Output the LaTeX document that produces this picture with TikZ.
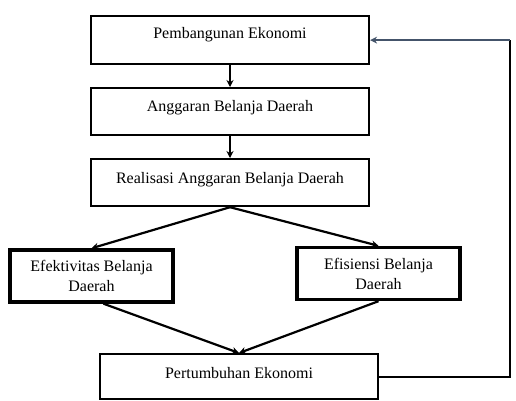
\documentclass[tikz,border=0pt]{standalone}
\usepackage{fontspec}
\setmainfont{Liberation Serif}
\usetikzlibrary{arrows.meta}
\definecolor{garisbalik}{RGB}{68,84,106}

\begin{document}
\begin{tikzpicture}[x=1pt,y=-1pt]
% Definisi gaya
\tikzset{
  kotak/.style={rectangle, draw, line width=2.2pt, minimum width=278pt, inner sep=0pt, anchor=north, font=\fontsize{16}{20}\selectfont},
  kotaktebal/.style={rectangle, draw, line width=3.4pt, align=center, minimum width=163pt, minimum height=52pt, inner sep=0pt, font=\fontsize{16}{20}\selectfont},
  panah/.style={line width=2.2pt, -{Stealth[length=7pt,width=7pt]}},
  garis/.style={line width=2.2pt}
}
\useasboundingbox (0,0) rectangle (516,400);

% Kotak utama
\node[kotak, text height=22pt, text depth=26pt] (pemb) at (230,15) {Pembangunan Ekonomi};
\node[kotak, text height=23pt, text depth=24pt] (angg) at (230,87) {Anggaran Belanja Daerah};
\node[kotak, text height=24pt, text depth=23pt] (real) at (230,158) {Realisasi Anggaran Belanja Daerah};

% Kotak efektivitas dan efisiensi
\node[kotaktebal] (efek) at (91.5,276) {Efektivitas Belanja\\Daerah};
\node[kotaktebal] (efis) at (378.5,273.5) {Efisiensi Belanja\\Daerah};

% Kotak hasil
\node[kotak, text height=24pt, text depth=21pt] (pert) at (239,353) {Pertumbuhan Ekonomi};

% Panah
\draw[panah] (pemb) -- (angg);
\draw[panah] (angg) -- (real);
\draw[panah] (real.south) -- (efek.north);
\draw[panah] (real.south) -- (efis.north);
\draw[panah] ([xshift=12pt]efek.south) -- (pert.north);
\draw[panah] (efis.south) -- (pert.north);

% Garis umpan balik
\coordinate (kanan) at (510,0);
\draw[garis] (pert.east) -| (kanan |- pemb.east);
\draw[panah, garisbalik] (kanan |- pemb.east) -- (pemb.east);

\end{tikzpicture}
\end{document}
